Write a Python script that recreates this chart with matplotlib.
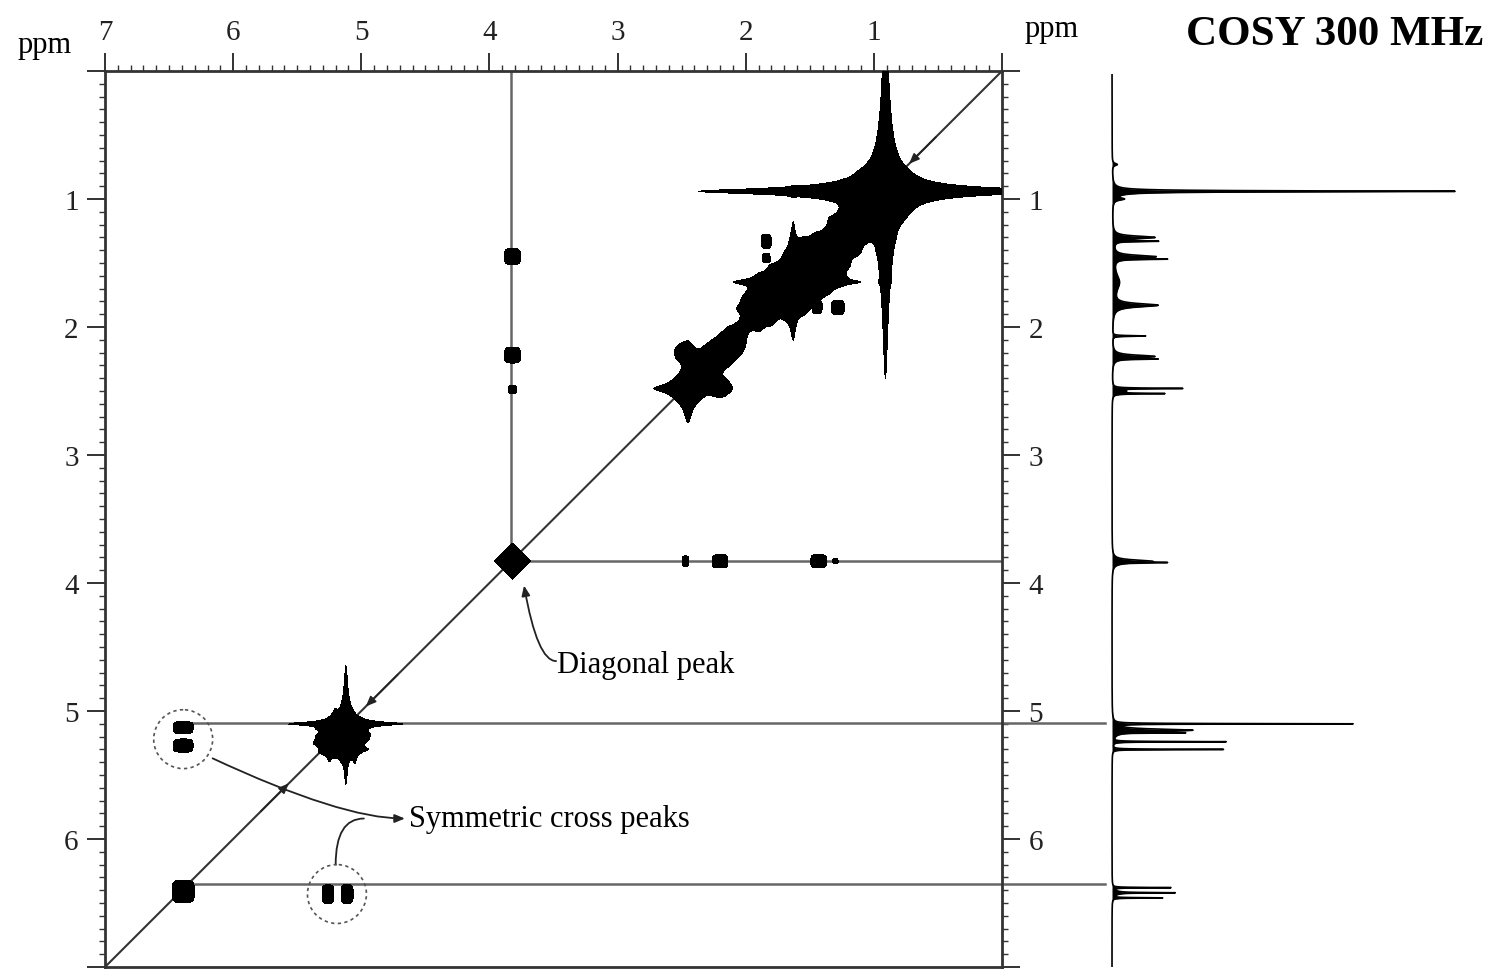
import numpy as np
import matplotlib
matplotlib.use("Agg")
import matplotlib.pyplot as plt
from matplotlib.patches import Circle
from matplotlib.ticker import MultipleLocator

plt.rcParams['font.family'] = ['Liberation Serif', 'DejaVu Serif']

# ---- 2D COSY peaks (ppm) -------------------------------------------------
# streak peaks (lorentzian product -> cross shaped contours)
lor_x   = [0.91, 5.12, 1.63, 2.45, 5.22, 5.08, 5.15, 5.30, 5.00, 5.20, 5.05, 5.25,
           1.12, 1.25, 1.35, 1.45, 1.55, 1.68, 1.80, 1.90, 2.02]
lor_y   = [0.94, 5.10, 1.65, 2.48, 5.20, 5.22, 5.28, 5.25, 5.18, 5.14, 5.30, 5.32,
           1.15, 1.32, 1.42, 1.52, 1.62, 1.72, 1.78, 1.86, 2.00]
lor_w   = [0.02, 0.012, 0.02, 0.03, 0.03, 0.03, 0.03, 0.02, 0.02, 0.015, 0.012, 0.012,
           0.05, 0.05, 0.05, 0.05, 0.06, 0.05, 0.05, 0.05, 0.03]
lor_amp = [5300, 1400, 400, 80, 14, 14, 12, 10, 8, 60, 60, 30,
           8, 10, 10, 12, 14, 12, 10, 10, 6]

# round blobs
blob_x = [0.92, 2.22, 2.32, 2.10, 2.48, 2.20, 2.13, 2.45]
blob_y = [0.95, 2.22, 2.30, 2.10, 2.20, 2.47, 2.16, 2.48]
blob_r = [0.15, 0.11, 0.09, 0.08, 0.07, 0.07, 0.08, 0.09]

# square cross peaks
box_x  = [3.82, 3.82, 3.82, 1.43, 2.20, 2.47, 1.30, 6.39, 6.39, 5.26, 5.11, 6.39,
          1.84, 1.84, 1.28, 1.44]
box_y  = [1.45, 2.22, 2.49, 3.83, 3.83, 3.83, 3.83, 5.13, 5.27, 6.43, 6.43, 6.41,
          1.33, 1.46, 1.85, 1.85]
box_wx = [0.06, 0.06, 0.03, 0.06, 0.06, 0.025, 0.02, 0.075, 0.075, 0.045, 0.045, 0.085,
          0.035, 0.025, 0.045, 0.03]
box_wy = [0.06, 0.06, 0.03, 0.05, 0.05, 0.04, 0.02, 0.045, 0.05, 0.07, 0.07, 0.085,
          0.05, 0.03, 0.05, 0.04]

# diamond diagonal peak
dia_x, dia_y, dia_w = [3.82], [3.83], [0.13]

# guide lines
cross_ppm = 3.83
h_guides = [5.09, 6.35]
h_guide_start = 6.39

# ---- 1D spectrum lines: ppm, height, width ------------------------------
line_ppm = [0.73, 0.94, 0.94, 1.00, 1.30, 1.33, 1.45, 1.47, 1.65, 1.83, 2.07,
            2.23, 2.25, 2.48, 2.52, 2.50, 3.83, 3.84, 5.10, 5.15, 5.17, 5.24, 5.30,
            6.38, 6.42, 6.46, 6.42]
line_h   = [5, 318, 25, 10, 42, 40, 42, 43, 7, 45, 33,
            42, 35, 68, 50, 12, 38, 33, 238, 80, 58, 113, 112,
            58, 55, 50, 8]
line_w   = [0.01, 0.004, 0.012, 0.01, 0.012, 0.003, 0.012, 0.003, 0.08, 0.015, 0.003,
            0.012, 0.003, 0.003, 0.003, 0.01, 0.012, 0.003, 0.002, 0.01, 0.002, 0.002, 0.002,
            0.002, 0.002, 0.002, 0.015]

fig = plt.figure(figsize=(15.07, 9.78), dpi=100)
ax = fig.add_axes([105/1507, 1-968/978, 897/1507, 896/978])
ax1d = fig.add_axes([1109/1507, 1-968/978, 381/1507, 896/978])

# build contour surface
ppm = np.linspace(0, 7, 1200)
X, Y = np.meshgrid(ppm, ppm)
Z = np.zeros_like(X)
for x0, y0, w, a in zip(lor_x, lor_y, lor_w, lor_amp):
    Z += a / ((1 + ((X-x0)/w)**2) * (1 + ((Y-y0)/w)**2))
for x0, y0, r in zip(blob_x, blob_y, blob_r):
    Z += 3 * np.exp(-(((X-x0)**2 + (Y-y0)**2) / r**2))
for x0, y0, wx, wy in zip(box_x, box_y, box_wx, box_wy):
    Z += 3 * np.exp(-(((X-x0)/wx)**4 + ((Y-y0)/wy)**4))
for x0, y0, w in zip(dia_x, dia_y, dia_w):
    Z += 3 * np.exp(-(np.abs(X-x0) + np.abs(Y-y0)) / w)

ax.contourf(ppm, ppm, Z, levels=[1, Z.max()+1], colors='black', zorder=3)

ax.set_xlim(7, 0)
ax.set_ylim(7, 0)

# diagonal + guides
ax.axline((0, 0), (1, 1), color='#333333', lw=1.5, zorder=2)
ax.plot([cross_ppm, cross_ppm], [0, cross_ppm], color='#666666', lw=1.8, zorder=2)
ax.plot([cross_ppm, 0], [cross_ppm, cross_ppm], color='#666666', lw=1.8, zorder=2)
for g in h_guides:
    ax.plot([h_guide_start, -0.8], [g, g], color='#666666', lw=1.8, zorder=2, clip_on=False)

# dashed circles
for cx, cy in [(6.39, 5.22), (5.19, 6.43)]:
    ax.add_patch(Circle((cx, cy), 0.23, fill=False, ls=(0, (2, 2)), lw=1.2, color='#555555', zorder=4))

# arrows along the diagonal
for tip, tail in [(0.74, 0.5), (4.98, 4.7), (5.55, 5.8)]:
    ax.annotate('', xy=(tip, tip), xytext=(tail, tail),
                arrowprops=dict(arrowstyle='-|>,head_length=0.6,head_width=0.25', color='#222222', lw=1.2))

# annotations
ax.text(3.47, 4.64, 'Diagonal peak', fontsize=22, ha='left', va='center', zorder=5)
ax.annotate('', xy=(3.73, 4.02), xytext=(3.48, 4.61),
            arrowprops=dict(arrowstyle='-|>,head_length=0.6,head_width=0.25', color='#222222', lw=1.3,
                            connectionstyle='angle3,angleA=180,angleB=100', shrinkA=0, shrinkB=0))
ax.text(4.63, 5.84, 'Symmetric cross peaks', fontsize=22, ha='left', va='center', zorder=5)
ax.annotate('', xy=(4.66, 5.84), xytext=(6.16, 5.37),
            arrowprops=dict(arrowstyle='-|>,head_length=0.6,head_width=0.25', color='#222222', lw=1.3,
                            connectionstyle='angle3,angleA=-25,angleB=0', shrinkA=0, shrinkB=0))
ax.annotate('', xy=(4.98, 5.84), xytext=(5.2, 6.2),
            arrowprops=dict(arrowstyle='-', color='#222222', lw=1.3,
                            connectionstyle='angle3,angleA=90,angleB=0', shrinkA=0, shrinkB=0))

# axes styling
ax.xaxis.set_ticks_position('top')
ax.set_xticks(range(8))
ax.set_xticklabels(['' if v == 0 else str(v) for v in range(8)])
ax.set_yticks(range(8))
ax.set_yticklabels(['' if v in (0, 7) else str(v) for v in range(8)])
ax.xaxis.set_minor_locator(MultipleLocator(0.1))
ax.yaxis.set_minor_locator(MultipleLocator(0.1))
ax.yaxis.set_ticks_position('both')
ax.tick_params(axis='y', which='both', labelleft=True, labelright=True)
ax.tick_params(which='major', direction='out', length=13, width=1.3, labelsize=21, pad=6, colors='#222222')
ax.tick_params(which='minor', direction='out', length=4.5, width=1.0, colors='#333333')
for s in ax.spines.values():
    s.set_linewidth(2)
    s.set_color('#333333')

fig.text(45/1507, 1-45/978, 'ppm', fontsize=22, ha='center', va='center')
fig.text(1052/1507, 1-30/978, 'ppm', fontsize=22, ha='center', va='center')
fig.text(1335/1507, 1-35/978, 'COSY 300 MHz', fontsize=31, fontweight='bold', ha='center', va='center')

# 1D projection
y1d = np.linspace(0.03, 7, 14000)
trace = np.zeros_like(y1d)
for p, h, w in zip(line_ppm, line_h, line_w):
    trace += h / (1 + ((y1d - p)/w)**2)
ax1d.fill_betweenx(y1d, 0, trace, color='black', lw=0)
ax1d.plot(trace, y1d, color='black', lw=1.2)
ax1d.set_xlim(-3, 378)
ax1d.set_ylim(7, 0)
ax1d.axis('off')

fig.savefig('out.png', dpi=100)
